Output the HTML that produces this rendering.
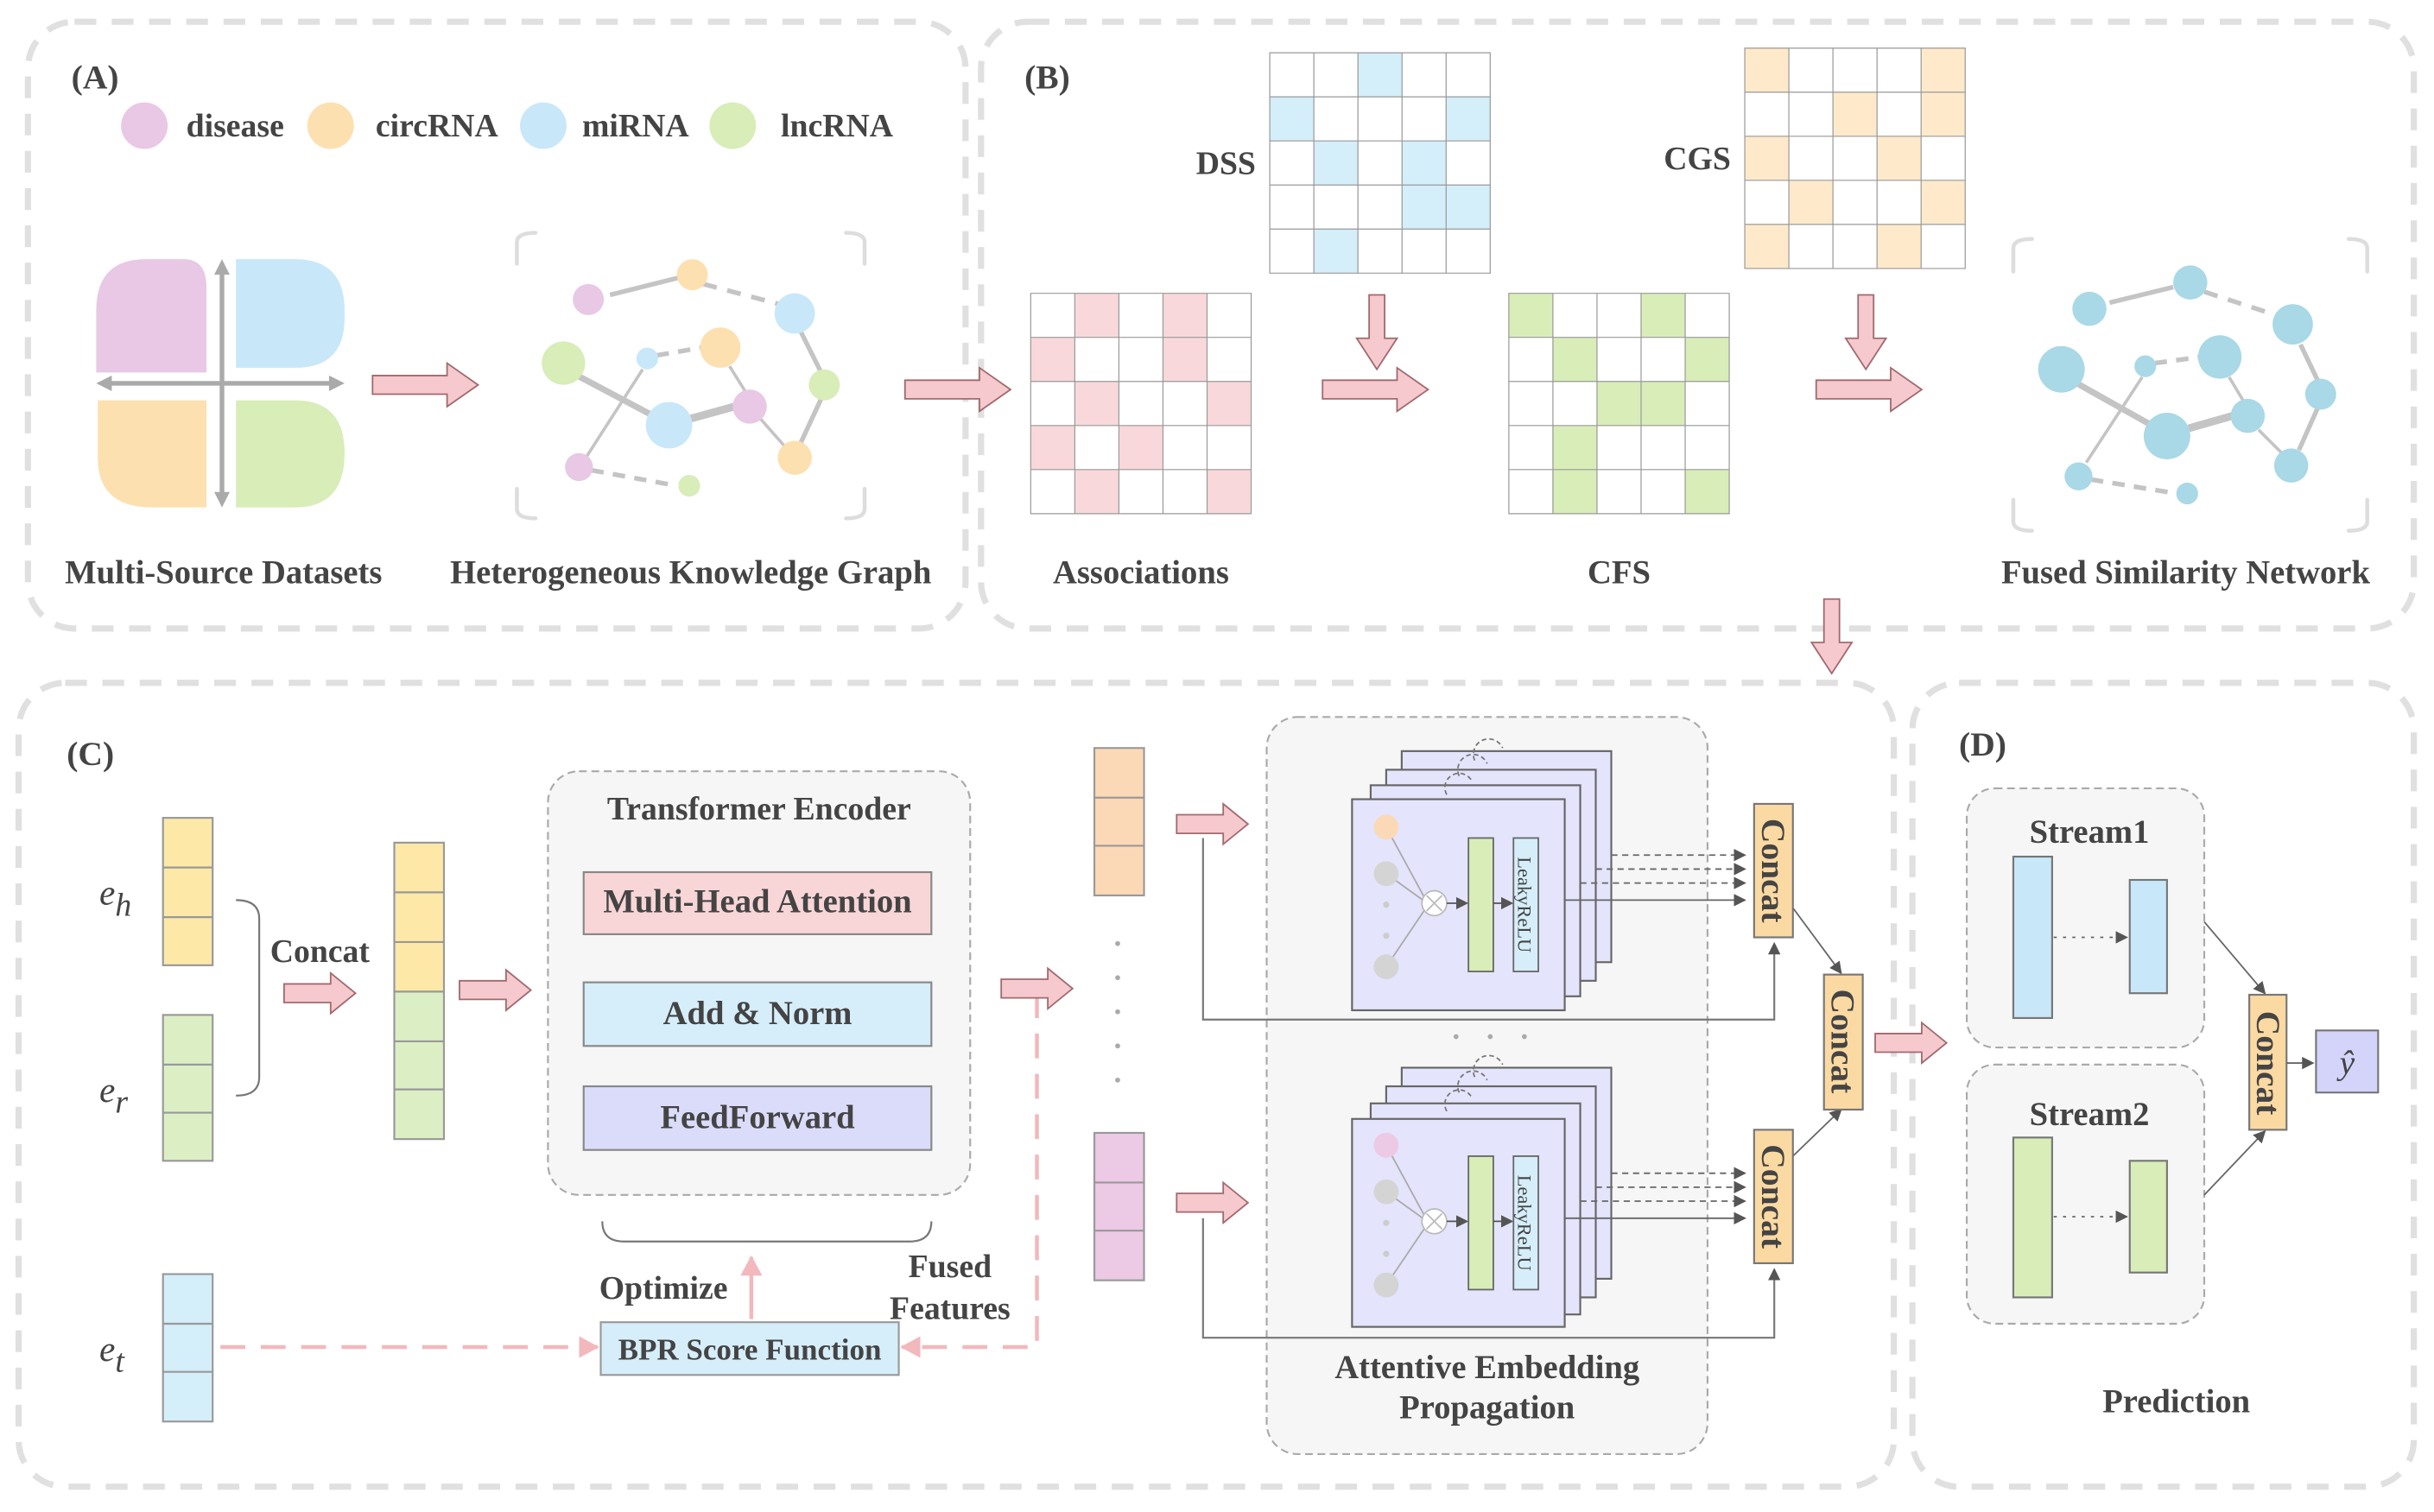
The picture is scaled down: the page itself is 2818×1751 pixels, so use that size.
<!DOCTYPE html>
<html><head><meta charset="utf-8"><style>
html,body{margin:0;padding:0;background:#fff}
svg{display:block}
text{font-family:"Liberation Serif",serif;font-weight:bold;fill:#444}
.n{font-weight:normal}
</style></head><body>
<svg width="2818" height="1751" viewBox="0 0 1568 974.3" preserveAspectRatio="none" xmlns="http://www.w3.org/2000/svg">
<defs>
<marker id="ah" markerWidth="8" markerHeight="8" refX="7" refY="4" orient="auto" markerUnits="userSpaceOnUse"><path d="M0,0 L8,4 L0,8z" fill="#555"/></marker>
<marker id="ahp" markerWidth="14" markerHeight="14" refX="12" refY="7" orient="auto" markerUnits="userSpaceOnUse"><path d="M0,0 L13,7 L0,14z" fill="#f2b8bc"/></marker>
<g id="ra"><path d="M0,-6 L30,-6 L30,-13 L46,0 L30,13 L30,6 L0,6z" fill="#f5c9cd" stroke="#a06a6e" stroke-width="1"/></g>
<g id="rl"><path d="M0,-6 L48,-6 L48,-14 L68,0 L48,14 L48,6 L0,6z" fill="#f5c9cd" stroke="#a06a6e" stroke-width="1"/></g>
<g id="da"><path d="M-5,0 L-5,28 L-13,28 L0,48 L13,28 L5,28 L5,0z" fill="#f5c9cd" stroke="#a06a6e" stroke-width="1"/></g>
</defs>
<rect width="1568" height="975" fill="#fff"/>
<g fill="none" stroke="#e0e0e0" stroke-width="4" stroke-dasharray="14,10">
<rect x="18" y="14" width="604" height="391" rx="30"/>
<rect x="632" y="14" width="923" height="391" rx="30"/>
<rect x="12" y="440" width="1208" height="518" rx="30"/>
<rect x="1232" y="440" width="323" height="518" rx="30"/>
</g>
<!-- Panel A -->
<text x="46" y="57" font-size="22">(A)</text>
<circle cx="93" cy="81" r="15" fill="#e8c8e4"/><text x="120" y="88" font-size="21">disease</text>
<circle cx="213" cy="81" r="15" fill="#fde0b0"/><text x="242" y="88" font-size="21">circRNA</text>
<circle cx="350" cy="81" r="15" fill="#c8e8fa"/><text x="375" y="88" font-size="21">miRNA</text>
<circle cx="472" cy="81" r="15" fill="#d8edb8"/><text x="503" y="88" font-size="21">lncRNA</text>
<path d="M62,200 Q62,167 94,167 L118,167 Q133,167 133,185 L133,240 L62,240z" fill="#e8c8e4"/>
<path d="M152,167 L190,167 Q222,167 222,200 L222,205 Q222,237 190,237 L152,237z" fill="#c8e8fa"/>
<path d="M63,258 L133,258 L133,327 L98,327 Q63,327 63,295z" fill="#fde0b0"/>
<path d="M152,258 L190,258 Q222,258 222,292 Q222,327 190,327 L152,327z" fill="#d8edb8"/>
<g stroke="#aaa" stroke-width="3" fill="#aaa">
<line x1="66" y1="247" x2="218" y2="247"/><line x1="143" y1="171" x2="143" y2="323"/>
</g>
<path d="M62,247 L72,242 L72,252z M222,247 L212,242 L212,252z M143,167 L138,177 L148,177z M143,327 L138,317 L148,317z" fill="#aaa"/>
<use href="#rl" x="240" y="248"/>
<g fill="none" stroke="#ddd" stroke-width="2.5" stroke-linecap="round">
<path d="M333,170 L333,156 Q333,150 345,150 M557,170 L557,156 Q557,150 545,150 M333,315 L333,328 Q333,334 345,334 M557,315 L557,328 Q557,334 545,334"/>
</g>
<g stroke="#c4c4c4" stroke-width="3" fill="none">
<line x1="393" y1="190" x2="437" y2="179"/>
<line x1="453" y1="183" x2="502" y2="196" stroke-dasharray="9,7"/>
<line x1="516" y1="214" x2="529" y2="240"/>
<line x1="529" y1="257" x2="516" y2="285"/>
<line x1="372" y1="242" x2="421" y2="268" stroke-width="4"/>
<line x1="444" y1="270" x2="473" y2="262" stroke-width="5"/>
<line x1="423" y1="229" x2="452" y2="224" stroke-dasharray="8,6"/>
<line x1="414" y1="238" x2="378" y2="294" stroke-width="2"/>
<line x1="470" y1="236" x2="480" y2="252" stroke-width="2"/>
<line x1="490" y1="270" x2="505" y2="287" stroke-width="2"/>
<line x1="381" y1="303" x2="436" y2="313" stroke-dasharray="8,6"/>
</g>
<circle cx="379" cy="193" r="10" fill="#e8c8e4"/><circle cx="446" cy="177" r="10" fill="#fde0b0"/>
<circle cx="512" cy="202" r="13" fill="#c8e8fa"/><circle cx="363" cy="234" r="14" fill="#d8edb8"/>
<circle cx="417" cy="231" r="7" fill="#c8e8fa"/><circle cx="464" cy="224" r="13" fill="#fde0b0"/>
<circle cx="531" cy="248" r="10" fill="#d8edb8"/><circle cx="483" cy="262" r="11" fill="#e8c8e4"/>
<circle cx="431" cy="274" r="15" fill="#c8e8fa"/><circle cx="512" cy="295" r="11" fill="#fde0b0"/>
<circle cx="373" cy="301" r="9" fill="#e8c8e4"/><circle cx="444" cy="313" r="7" fill="#d8edb8"/>
<text x="144" y="376" font-size="21.5" text-anchor="middle">Multi-Source Datasets</text>
<text x="445" y="376" font-size="21.5" text-anchor="middle">Heterogeneous Knowledge Graph</text>
<use href="#rl" x="583" y="251"/>
<!-- Panel B -->
<text x="660" y="57" font-size="22">(B)</text>
<svg x="664" y="189" width="142" height="142" viewBox="0 0 5 5" preserveAspectRatio="none" overflow="visible">
<rect width="5" height="5" fill="#fff"/>
<g fill="#f8d8da"><rect x="1" y="0" width="1" height="1"/><rect x="3" y="0" width="1" height="1"/><rect x="0" y="1" width="1" height="1"/><rect x="3" y="1" width="1" height="1"/><rect x="1" y="2" width="1" height="1"/><rect x="4" y="2" width="1" height="1"/><rect x="0" y="3" width="1" height="1"/><rect x="2" y="3" width="1" height="1"/><rect x="1" y="4" width="1" height="1"/><rect x="4" y="4" width="1" height="1"/></g>
<path d="M0,0H5V5H0Z M1,0V5 M2,0V5 M3,0V5 M4,0V5 M0,1H5 M0,2H5 M0,3H5 M0,4H5" fill="none" stroke="#999" stroke-width="1.2" vector-effect="non-scaling-stroke"/></svg>
<svg x="818" y="34" width="142" height="142" viewBox="0 0 5 5" preserveAspectRatio="none" overflow="visible">
<rect width="5" height="5" fill="#fff"/>
<g fill="#d4eefa"><rect x="2" y="0" width="1" height="1"/><rect x="0" y="1" width="1" height="1"/><rect x="4" y="1" width="1" height="1"/><rect x="1" y="2" width="1" height="1"/><rect x="3" y="2" width="1" height="1"/><rect x="3" y="3" width="1" height="1"/><rect x="4" y="3" width="1" height="1"/><rect x="1" y="4" width="1" height="1"/></g>
<path d="M0,0H5V5H0Z M1,0V5 M2,0V5 M3,0V5 M4,0V5 M0,1H5 M0,2H5 M0,3H5 M0,4H5" fill="none" stroke="#999" stroke-width="1.2" vector-effect="non-scaling-stroke"/></svg>
<svg x="1124" y="31" width="142" height="142" viewBox="0 0 5 5" preserveAspectRatio="none" overflow="visible">
<rect width="5" height="5" fill="#fff"/>
<g fill="#feeacb"><rect x="0" y="0" width="1" height="1"/><rect x="4" y="0" width="1" height="1"/><rect x="2" y="1" width="1" height="1"/><rect x="4" y="1" width="1" height="1"/><rect x="0" y="2" width="1" height="1"/><rect x="3" y="2" width="1" height="1"/><rect x="1" y="3" width="1" height="1"/><rect x="4" y="3" width="1" height="1"/><rect x="0" y="4" width="1" height="1"/><rect x="3" y="4" width="1" height="1"/></g>
<path d="M0,0H5V5H0Z M1,0V5 M2,0V5 M3,0V5 M4,0V5 M0,1H5 M0,2H5 M0,3H5 M0,4H5" fill="none" stroke="#999" stroke-width="1.2" vector-effect="non-scaling-stroke"/></svg>
<svg x="972" y="189" width="142" height="142" viewBox="0 0 5 5" preserveAspectRatio="none" overflow="visible">
<rect width="5" height="5" fill="#fff"/>
<g fill="#d8edb8"><rect x="0" y="0" width="1" height="1"/><rect x="3" y="0" width="1" height="1"/><rect x="1" y="1" width="1" height="1"/><rect x="4" y="1" width="1" height="1"/><rect x="2" y="2" width="1" height="1"/><rect x="3" y="2" width="1" height="1"/><rect x="1" y="3" width="1" height="1"/><rect x="1" y="4" width="1" height="1"/><rect x="4" y="4" width="1" height="1"/></g>
<path d="M0,0H5V5H0Z M1,0V5 M2,0V5 M3,0V5 M4,0V5 M0,1H5 M0,2H5 M0,3H5 M0,4H5" fill="none" stroke="#999" stroke-width="1.2" vector-effect="non-scaling-stroke"/></svg>
<text x="809" y="112" font-size="21" text-anchor="end">DSS</text>
<text x="1115" y="109" font-size="21" text-anchor="end">CGS</text>
<use href="#da" x="887" y="190"/><use href="#da" x="1202" y="190"/>
<use href="#rl" x="852" y="251"/><use href="#rl" x="1170" y="251"/>
<g fill="none" stroke="#ddd" stroke-width="2.5" stroke-linecap="round">
<path d="M1297,175 L1297,160 Q1297,154 1309,154 M1525,175 L1525,160 Q1525,154 1513,154 M1297,322 L1297,336 Q1297,342 1309,342 M1525,322 L1525,336 Q1525,342 1513,342"/>
</g>
<g stroke="#c4c4c4" stroke-width="3" fill="none">
<line x1="1359" y1="195" x2="1400" y2="185"/>
<line x1="1420" y1="188" x2="1466" y2="203" stroke-dasharray="9,7"/>
<line x1="1482" y1="222" x2="1493" y2="245"/>
<line x1="1493" y1="263" x2="1481" y2="290"/>
<line x1="1338" y1="247" x2="1386" y2="274" stroke-width="4"/>
<line x1="1410" y1="276" x2="1438" y2="268" stroke-width="5"/>
<line x1="1388" y1="234" x2="1418" y2="230" stroke-dasharray="8,6"/>
<line x1="1380" y1="243" x2="1344" y2="298" stroke-width="2"/>
<line x1="1436" y1="243" x2="1445" y2="258" stroke-width="2"/>
<line x1="1455" y1="277" x2="1470" y2="292" stroke-width="2"/>
<line x1="1347" y1="309" x2="1402" y2="318" stroke-dasharray="8,6"/>
</g>
<g fill="#a9d8e6">
<circle cx="1346" cy="199" r="11"/><circle cx="1411" cy="182" r="11"/><circle cx="1477" cy="209" r="13"/>
<circle cx="1328" cy="238" r="15"/><circle cx="1382" cy="236" r="7"/><circle cx="1430" cy="230" r="14"/>
<circle cx="1495" cy="254" r="10"/><circle cx="1448" cy="268" r="11"/><circle cx="1396" cy="281" r="15"/>
<circle cx="1476" cy="300" r="11"/><circle cx="1339" cy="307" r="9"/><circle cx="1409" cy="318" r="7"/>
</g>
<text x="735" y="376" font-size="21.5" text-anchor="middle">Associations</text>
<text x="1043" y="376" font-size="21.5" text-anchor="middle">CFS</text>
<text x="1408" y="376" font-size="21.5" text-anchor="middle">Fused Similarity Network</text>
<use href="#da" x="1180" y="386"/>
<!-- Panel C -->
<text x="43" y="493" font-size="22">(C)</text>
<g stroke="#999" stroke-width="1.2">
<rect x="105" y="527" width="32" height="95" fill="#fde8a8"/><line x1="105" y1="559" x2="137" y2="559"/><line x1="105" y1="591" x2="137" y2="591"/>
<rect x="105" y="654" width="32" height="94" fill="#dcefc4"/><line x1="105" y1="686" x2="137" y2="686"/><line x1="105" y1="717" x2="137" y2="717"/>
<rect x="105" y="821" width="32" height="95" fill="#d4eefa"/><line x1="105" y1="853" x2="137" y2="853"/><line x1="105" y1="884" x2="137" y2="884"/>
<rect x="254" y="543" width="32" height="96" fill="#fde8a8"/><rect x="254" y="639" width="32" height="95" fill="#dcefc4"/>
<line x1="254" y1="575" x2="286" y2="575"/><line x1="254" y1="607" x2="286" y2="607"/><line x1="254" y1="671" x2="286" y2="671"/><line x1="254" y1="702" x2="286" y2="702"/>
<rect x="705" y="482" width="32" height="95" fill="#fcd9b6"/><line x1="705" y1="514" x2="737" y2="514"/><line x1="705" y1="545" x2="737" y2="545"/>
<rect x="705" y="730" width="32" height="95" fill="#ecc9e4"/><line x1="705" y1="762" x2="737" y2="762"/><line x1="705" y1="793" x2="737" y2="793"/>
</g>
<text x="64" y="583" font-size="23" font-style="italic" class="n">e<tspan font-size="21" dy="7">h</tspan></text>
<text x="64" y="710" font-size="23" font-style="italic" class="n">e<tspan font-size="21" dy="7">r</tspan></text>
<text x="64" y="877" font-size="23" font-style="italic" class="n">e<tspan font-size="21" dy="7">t</tspan></text>
<path d="M152,580 Q167,580 167,592 L167,694 Q167,706 152,706" fill="none" stroke="#777" stroke-width="1.2"/>
<text x="174" y="620" font-size="21">Concat</text>
<use href="#ra" x="183" y="640"/><use href="#ra" x="296" y="638"/>
<rect x="353" y="497" width="272" height="273" rx="20" fill="#f6f6f6" stroke="#aaa" stroke-width="1.2" stroke-dasharray="5,3"/>
<text x="489" y="528" font-size="21" text-anchor="middle">Transformer Encoder</text>
<rect x="376" y="562" width="224" height="40" fill="#f8d6d8" stroke="#888" stroke-width="1.2"/>
<text x="488" y="588" font-size="21.5" text-anchor="middle">Multi-Head Attention</text>
<rect x="376" y="633" width="224" height="41" fill="#d6eefa" stroke="#888" stroke-width="1.2"/>
<text x="488" y="660" font-size="21.5" text-anchor="middle">Add &amp; Norm</text>
<rect x="376" y="700" width="224" height="41" fill="#dadcfa" stroke="#888" stroke-width="1.2"/>
<text x="488" y="727" font-size="21.5" text-anchor="middle">FeedForward</text>
<path d="M388,787 Q388,800 402,800 L586,800 Q600,800 600,787" fill="none" stroke="#777" stroke-width="1.2"/>
<text x="386" y="837" font-size="21">Optimize</text>
<line x1="484" y1="850" x2="484" y2="810" stroke="#f2b8bc" stroke-width="2.5" marker-end="url(#ahp)"/>
<rect x="387" y="852" width="192" height="34" fill="#d6eefa" stroke="#999" stroke-width="1.2"/>
<text x="483" y="876" font-size="19.5" text-anchor="middle">BPR Score Function</text>
<text x="612" y="823" font-size="21" text-anchor="middle">Fused</text>
<text x="612" y="850" font-size="21" text-anchor="middle">Features</text>
<g stroke="#f2b8bc" stroke-width="2.5" fill="none" stroke-dasharray="16,10">
<line x1="142" y1="868" x2="385" y2="868" marker-end="url(#ahp)"/>
<path d="M668,640 L668,868 L581,868" marker-end="url(#ahp)"/>
</g>
<use href="#ra" x="645" y="637"/>
<g fill="#aaa"><circle cx="720" cy="608" r="1.6"/><circle cx="720" cy="630" r="1.6"/><circle cx="720" cy="652" r="1.6"/><circle cx="720" cy="674" r="1.6"/><circle cx="720" cy="696" r="1.6"/></g>
<use href="#ra" x="758" y="531"/><use href="#ra" x="758" y="775"/>
<rect x="816" y="462" width="284" height="475" rx="20" fill="#f6f6f6" stroke="#aaa" stroke-width="1.2" stroke-dasharray="5,3"/>
<g fill="none" stroke="#777" stroke-width="1.2">
<path d="M775,540 L775,657 L1143,657 L1143,608" marker-end="url(#ah)"/>
<path d="M775,785 L775,862 L1143,862 L1143,818" marker-end="url(#ah)"/>
</g>
<g stroke="#666" stroke-width="1.2" fill="#e4e4fc">
<rect x="903" y="484" width="135" height="136"/><rect x="893" y="496" width="135" height="136"/><rect x="883" y="506" width="135" height="136"/><rect x="871" y="515" width="137" height="136"/>
<rect x="903" y="688" width="135" height="136"/><rect x="893" y="700" width="135" height="136"/><rect x="883" y="711" width="135" height="136"/><rect x="871" y="721" width="137" height="134"/>
</g>
<g fill="none" stroke="#777" stroke-width="1" stroke-dasharray="3,2">
<path d="M950,490 A8,8 0 1 1 968,482"/><path d="M940,500 A8,8 0 1 1 958,492"/><path d="M932,512 A8,8 0 1 1 948,503"/>
<path d="M950,694 A8,8 0 1 1 968,686"/><path d="M940,704 A8,8 0 1 1 958,696"/><path d="M932,716 A8,8 0 1 1 948,707"/>
</g>
<g id="cardin">
<g stroke="#aaa" stroke-width="1"><line x1="893" y1="533" x2="918" y2="579"/><line x1="893" y1="563" x2="918" y2="581"/><line x1="893" y1="623" x2="918" y2="586"/></g>
<circle cx="893" cy="563" r="8" fill="#d4d4d4"/><circle cx="893" cy="623" r="8" fill="#d4d4d4"/>
<circle cx="893" cy="583" r="2" fill="#ccc"/><circle cx="893" cy="603" r="2" fill="#ccc"/>
<circle cx="924" cy="582" r="8" fill="#fff" stroke="#bbb"/><path d="M919,577 L929,587 M929,577 L919,587" stroke="#bbb"/>
<line x1="932" y1="582" x2="945" y2="582" stroke="#555" marker-end="url(#ah)"/>
<rect x="946" y="540" width="16" height="86" fill="#d8edb8" stroke="#666"/>
<line x1="962" y1="582" x2="974" y2="582" stroke="#555" marker-end="url(#ah)"/>
<rect x="975" y="540" width="16" height="86" fill="#d6eefa" stroke="#666"/>
<text transform="translate(978,583) rotate(90)" font-size="12.5" text-anchor="middle" class="n">LeakyReLU</text>
</g>
<use href="#cardin" y="205"/>
<circle cx="893" cy="533" r="8" fill="#fcd9b6"/><circle cx="893" cy="738" r="8" fill="#ecc9e4"/>
<g stroke="#666" stroke-width="1" fill="none">
<line x1="1038" y1="551" x2="1124" y2="551" stroke-dasharray="4,3" marker-end="url(#ah)"/>
<line x1="1028" y1="560" x2="1124" y2="560" stroke-dasharray="4,3" marker-end="url(#ah)"/>
<line x1="1018" y1="569" x2="1124" y2="569" stroke-dasharray="4,3" marker-end="url(#ah)"/>
<line x1="1008" y1="580" x2="1124" y2="580" marker-end="url(#ah)"/>
<line x1="1038" y1="756" x2="1124" y2="756" stroke-dasharray="4,3" marker-end="url(#ah)"/>
<line x1="1028" y1="765" x2="1124" y2="765" stroke-dasharray="4,3" marker-end="url(#ah)"/>
<line x1="1018" y1="774" x2="1124" y2="774" stroke-dasharray="4,3" marker-end="url(#ah)"/>
<line x1="1008" y1="785" x2="1124" y2="785" marker-end="url(#ah)"/>
<line x1="1155" y1="585" x2="1186" y2="627" marker-end="url(#ah)"/>
<line x1="1155" y1="745" x2="1186" y2="715" marker-end="url(#ah)"/>
</g>
<g fill="#fbd9a2" stroke="#777" stroke-width="1.2">
<rect x="1130" y="518" width="25" height="86"/><rect x="1130" y="728" width="25" height="86"/><rect x="1175" y="628" width="25" height="87"/><rect x="1449" y="641" width="24" height="87"/>
</g>
<g font-size="22">
<text transform="translate(1135,561) rotate(90)" text-anchor="middle">Concat</text>
<text transform="translate(1135,771) rotate(90)" text-anchor="middle">Concat</text>
<text transform="translate(1180,671) rotate(90)" text-anchor="middle">Concat</text>
<text transform="translate(1454,685) rotate(90)" text-anchor="middle">Concat</text>
</g>
<g fill="#aaa"><circle cx="938" cy="668" r="1.6"/><circle cx="960" cy="668" r="1.6"/><circle cx="982" cy="668" r="1.6"/></g>
<text x="958" y="888" font-size="21.5" text-anchor="middle">Attentive Embedding</text>
<text x="958" y="914" font-size="21.5" text-anchor="middle">Propagation</text>
<use href="#ra" x="1208" y="672"/>
<!-- Panel D -->
<text x="1262" y="487" font-size="22">(D)</text>
<rect x="1267" y="508" width="153" height="167" rx="18" fill="#f6f6f6" stroke="#aaa" stroke-width="1.2" stroke-dasharray="5,3"/>
<rect x="1267" y="686" width="153" height="167" rx="18" fill="#f6f6f6" stroke="#aaa" stroke-width="1.2" stroke-dasharray="5,3"/>
<text x="1346" y="543" font-size="21.5" text-anchor="middle">Stream1</text>
<text x="1346" y="725" font-size="21.5" text-anchor="middle">Stream2</text>
<g stroke="#777" stroke-width="1.2">
<rect x="1297" y="552" width="25" height="104" fill="#c8e8fa"/><rect x="1372" y="567" width="24" height="73" fill="#c8e8fa"/>
<rect x="1297" y="733" width="25" height="103" fill="#d8edb8"/><rect x="1372" y="748" width="24" height="72" fill="#d8edb8"/>
</g>
<g stroke="#666" stroke-width="1" fill="none">
<line x1="1323" y1="604" x2="1370" y2="604" stroke-dasharray="2,4" marker-end="url(#ah)"/>
<line x1="1323" y1="784" x2="1370" y2="784" stroke-dasharray="2,4" marker-end="url(#ah)"/>
<line x1="1420" y1="594" x2="1459" y2="640" marker-end="url(#ah)"/>
<line x1="1420" y1="770" x2="1459" y2="729" marker-end="url(#ah)"/>
<line x1="1473" y1="685" x2="1490" y2="685" marker-end="url(#ah)"/>
</g>
<rect x="1492" y="664" width="40" height="40" fill="#d4d4fa" stroke="#777" stroke-width="1.2"/>
<text x="1512" y="692" font-size="22" font-style="italic" class="n" text-anchor="middle">ŷ</text>
<text x="1402" y="910" font-size="21.5" text-anchor="middle">Prediction</text>
</svg>
</body></html>
